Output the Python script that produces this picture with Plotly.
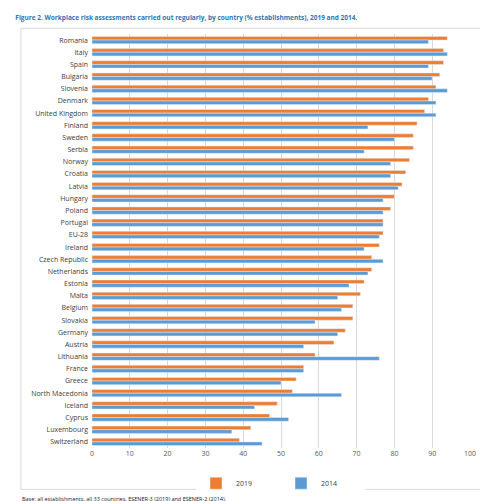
import plotly.graph_objects as go

countries = ["Romania","Italy","Spain","Bulgaria","Slovenia","Denmark","United Kingdom","Finland","Sweden","Serbia","Norway","Croatia","Latvia","Hungary","Poland","Portugal","EU-28","Ireland","Czech Republic","Netherlands","Estonia","Malta","Belgium","Slovakia","Germany","Austria","Lithuania","France","Greece","North Macedonia","Iceland","Cyprus","Luxembourg","Switzerland"]
v2019 = [94,93,93,92,91,89,88,86,85,85,84,83,82,80,79,77,77,76,74,74,72,71,69,69,67,64,59,56,54,53,49,47,42,39]
v2014 = [89,94,89,90,94,91,91,73,80,72,79,79,81,77,77,77,76,72,77,73,68,65,66,59,65,56,76,56,50,66,43,52,37,45]

fig = go.Figure()
fig.add_bar(y=countries, x=v2019, name="2019", orientation="h", marker_color="#ED7D31")
fig.add_bar(y=countries, x=v2014, name="2014", orientation="h", marker_color="#5B9BD5")

fig.update_layout(
    width=488, height=501, barmode="group", bargap=0.4, bargroupgap=0,
    paper_bgcolor="white", plot_bgcolor="white",
    margin=dict(l=84, r=26, t=26, b=61, autoexpand=False),
    font=dict(family="Open Sans", size=7, color="#404040"),
    legend=dict(orientation="h", x=0.5, xanchor="center", y=-0.05, yanchor="top",
                font=dict(size=7), entrywidth=40, traceorder="normal"),
    title=dict(text="<b>Figure 2. Workplace risk assessments carried out regularly, by country (% establishments), 2019 and 2014.</b>",
               x=0.015, xanchor="left", y=0.985, yanchor="top",
               font=dict(size=6.5, color="#2E75B6")),
    annotations=[dict(text="Base: all establishments, all 33 countries, ESENER-3 (2019) and ESENER-2 (2014).",
                      xref="paper", yref="paper", x=-0.19, y=-0.108, xanchor="left", yanchor="top",
                      showarrow=False, font=dict(size=5.5, color="#222"))],
    shapes=[dict(type="rect", xref="paper", yref="paper", x0=-0.188, x1=1.045, y0=-0.1, y1=1.014,
                 line=dict(color="#D9D9D9", width=1))],
)
fig.update_xaxes(range=[0,100], dtick=10, showgrid=True, gridcolor="#D9D9D9", zeroline=False,
                 tickfont=dict(size=7, color="#595959"), automargin=False)
fig.update_yaxes(autorange="reversed", tickfont=dict(size=7, color="#404040"), ticks="",
                 ticklabelstandoff=3, automargin=False)
fig.write_html("out.html")
